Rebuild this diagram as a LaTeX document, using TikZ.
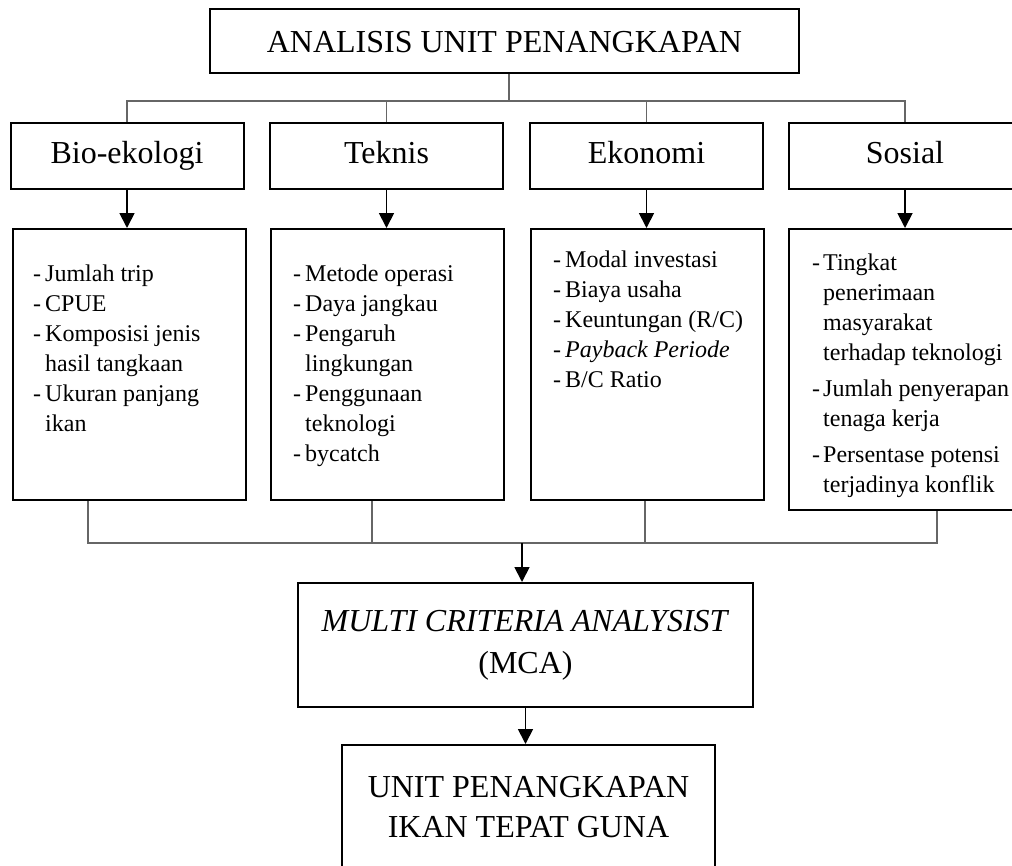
\documentclass[tikz,border=0pt]{standalone}
\usepackage{fontspec}
\setmainfont{Liberation Serif}
\usetikzlibrary{arrows.meta}

\begin{document}
\begin{tikzpicture}[x=1pt,y=-1pt,
			box node/.style={rectangle,draw,line width=2pt,inner sep=0pt},
			title node/.style={box node,minimum width=589pt,minimum height=64pt,text height=22pt,text depth=0pt,font=\fontsize{32}{40}\selectfont},
			head node/.style={box node,minimum width=233pt,minimum height=66pt,text height=22pt,text depth=7pt,font=\fontsize{32}{40}\selectfont},
			list box/.style={box node,minimum width=233pt,minimum height=271pt},
			list node/.style={anchor=north west,inner sep=0pt,font=\fontsize{24}{30}\selectfont},
			garis/.style={line width=1.2pt,gray!80!black},
			panah/.style={-{Triangle[width=15pt,length=15pt]},line width=1.8pt}
			]

			\useasboundingbox (0,0) rectangle (1012,865);
			\clip (0,0) rectangle (1012,865);

			\node[title node] at (504.5,41) (judul) {ANALISIS UNIT PENANGKAPAN};

			\node[head node] at (127,156) (bio) {Bio-ekologi};
			\node[head node] at (386.5,156) (teknis) {Teknis};
			\node[head node] at (646.5,156) (ekonomi) {Ekonomi};
			\node[head node] at (905,156) (sosial) {Sosial};

			\node[list box] at (129,364.5) (kotakbio) {};
			\node[list box] at (387,364.5) (kotakteknis) {};
			\node[list box] at (647,364.5) (kotakekonomi) {};
			\node[list box,minimum height=281pt] at (905.5,369.5) (kotaksosial) {};

			\node[list node] at (33,260) (isibio) {\begin{tabular}{@{}l@{\hspace{4pt}}l@{}}
				-&Jumlah trip\\
				-&CPUE\\
				-&Komposisi jenis\\
				&hasil tangkaan\\
				-&Ukuran panjang\\
				&ikan
			\end{tabular}};
			\node[list node] at (293,260) (isiteknis) {\begin{tabular}{@{}l@{\hspace{4pt}}l@{}}
				-&Metode operasi\\
				-&Daya jangkau\\
				-&Pengaruh\\
				&lingkungan\\
				-&Penggunaan\\
				&teknologi\\
				-&bycatch
			\end{tabular}};
			\node[list node] at (553,246) (isiekonomi) {\begin{tabular}{@{}l@{\hspace{4pt}}l@{}}
				-&Modal investasi\\
				-&Biaya usaha\\
				-&Keuntungan (R/C)\\
				-&\textit{Payback Periode}\\
				-&B/C Ratio
			\end{tabular}};
			\node[list node] at (812,249) (isisosial) {\begin{tabular}{@{}l@{\hspace{3pt}}l@{}}
				-&Tingkat\\
				&penerimaan\\
				&masyarakat\\
				&terhadap teknologi\\[6pt]
				-&Jumlah penyerapan\\
				&tenaga kerja\\[6pt]
				-&Persentase potensi\\
				&terjadinya konflik
			\end{tabular}};

			\node[box node,minimum width=455pt,minimum height=124pt,align=center,font=\fontsize{32}{42}\selectfont] at (525.5,645) (mca) {\textit{MULTI CRITERIA ANALYSIST}\\(MCA)};
			\node[box node,minimum width=373pt,minimum height=124pt,align=center,font=\fontsize{32}{40}\selectfont] at (528.5,807) (hasil) {UNIT PENANGKAPAN\\IKAN TEPAT GUNA};

			% garis dari judul ke aspek
			\coordinate (atas) at (509,101);
			\draw[garis] (atas |- judul.south) -- (atas);
			\draw[garis] (bio.north) |- (atas);
			\draw[garis] (teknis.north) |- (atas);
			\draw[garis] (ekonomi.north) |- (atas);
			\draw[garis] (sosial.north) |- (atas);

			\draw[panah] (bio.south) -- (bio.south |- kotakbio.north);
			\draw[panah] (teknis.south) -- (teknis.south |- kotakteknis.north);
			\draw[panah] (ekonomi.south) -- (ekonomi.south |- kotakekonomi.north);
			\draw[panah] (sosial.south) -- (sosial.south |- kotaksosial.north);

			% garis ke MCA
			\coordinate (bawah) at (522,543);
			\draw[garis] ([xshift=-41pt]kotakbio.south) |- (bawah);
			\draw[garis] ([xshift=-15pt]kotakteknis.south) |- (bawah);
			\draw[garis] ([xshift=-2pt]kotakekonomi.south) |- (bawah);
			\draw[garis] ([xshift=31.5pt]kotaksosial.south) |- (bawah);
			\draw[panah] (bawah) -- (bawah |- mca.north);
			\draw[panah] (mca.south) -- (mca.south |- hasil.north);
		\end{tikzpicture}
\end{document}
